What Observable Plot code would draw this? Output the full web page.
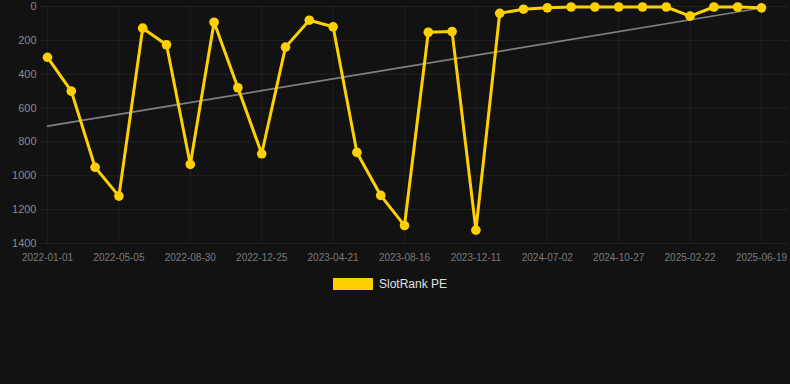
<!DOCTYPE html>
<html>
<head>
<meta charset="utf-8">
<script src="https://cdn.jsdelivr.net/npm/d3@7"></script>
<script src="https://cdn.jsdelivr.net/npm/@observablehq/plot@0.6"></script>
<style>
  html, body { margin: 0; padding: 0; background: #121212; width: 790px; height: 384px; overflow: hidden; }
  #chart svg { display: block; }
  .legend { display: flex; justify-content: center; align-items: center; margin-top: 11px; padding-right: 10px;
            font-family: "Liberation Sans", Arial, sans-serif; font-size: 12px; color: #e0e0e0; }
  .legend .sw { width: 40px; height: 12px; background: #FFD000; margin-right: 6px; }
</style>
</head>
<body>
<div id="chart"></div>
<div class="legend"><div class="sw"></div><span>SlotRank PE</span></div>
<script>
const seriesName = "SlotRank PE";
const ranks = [300, 500, 950, 1120, 128, 226, 933, 93, 480, 870, 240, 81, 120, 862, 1116, 1294, 152, 148, 1321, 40, 16, 8, 3, 3, 3, 3, 3, 57, 3, 3, 8];
const tickLabels = ["2022-01-01", "2022-05-05", "2022-08-30", "2022-12-25", "2023-04-21", "2023-08-16", "2023-12-11", "2024-07-02", "2024-10-27", "2025-02-22", "2025-06-19"];
const yTicks = [0, 200, 400, 600, 800, 1000, 1200, 1400];

const data = ranks.map((v, i) => ({i, v}));
const xTicks = tickLabels.map((_, k) => k * 3);

const chart = Plot.plot({
  width: 790,
  height: 266,
  marginLeft: 40,
  marginRight: 2,
  marginTop: 6,
  marginBottom: 23,
  style: {background: "#121212", fontFamily: "'Liberation Sans', Arial, sans-serif"},
  x: {domain: [0, ranks.length - 1], range: [47, 761]},
  y: {domain: [0, 1400], range: [6, 243]},
  marks: [
    Plot.gridY(yTicks, {stroke: "#ffffff", strokeOpacity: 0.07, strokeWidth: 1}),
    Plot.gridX(xTicks, {stroke: "#ffffff", strokeOpacity: 0.05, strokeWidth: 1}),
    Plot.axisY(yTicks, {tickSize: 0, tickPadding: 4, fontSize: 11, fill: "#8a8a8a", label: null, tickFormat: d => String(d)}),
    Plot.axisX(xTicks, {tickSize: 0, tickPadding: 10, fontSize: 10, fill: "#7a7a7a", label: null,
      tickFormat: d => tickLabels[d / 3]}),
    Plot.linearRegressionY(data, {x: "i", y: "v", ci: 0, stroke: "#808080", strokeWidth: 1.7}),
    Plot.line(data, {x: "i", y: "v", stroke: "#FFD000", strokeWidth: 3, strokeLinejoin: "miter", strokeLinecap: "butt"}),
    Plot.dot(data, {x: "i", y: "v", r: 4.8, fill: "#FFD000", stroke: "none"})
  ]
});
document.getElementById("chart").append(chart);
</script>
</body>
</html>
